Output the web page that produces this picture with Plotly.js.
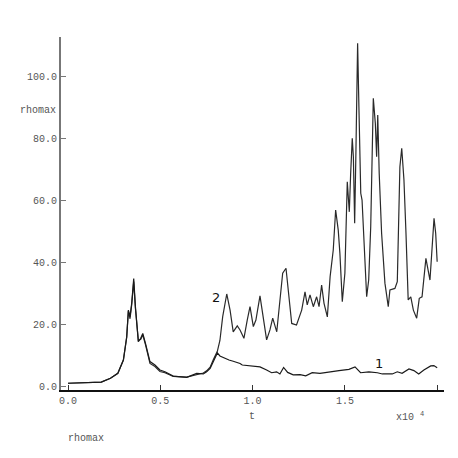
<!DOCTYPE html>
<html>
<head>
<meta charset="utf-8">
<script src="https://cdn.plot.ly/plotly-3.0.1.min.js"></script>
<style>
  body { margin: 0; background: #fff; }
  #graph { width: 458px; height: 458px; }
</style>
</head>
<body>
<div id="graph"></div>
<script>
//----------------------- datos (t en unidades de 1e4) ------------------
const tComun = [0, 0.1, 0.18, 0.23, 0.27, 0.30, 0.318, 0.327, 0.336, 0.345, 0.356, 0.365, 0.381, 0.394, 0.405, 0.42, 0.444, 0.471, 0.498, 0.525, 0.57, 0.643, 0.697, 0.733, 0.751, 0.77, 0.787, 0.809];
const rhoComun1 = [1.2, 1.3, 1.6, 2.8, 4.4, 8.7, 16.2, 24.8, 22.7, 27, 35, 26, 14.6, 15.7, 17.3, 14, 8.2, 7.1, 5.5, 4.9, 3.5, 3.1, 4.4, 4.2, 4.9, 6, 8.2, 11];
const rhoComun2 = [1.2, 1.3, 1.6, 2.8, 4.4, 8.7, 16.0, 24.5, 22.0, 26.5, 34, 25.5, 15.0, 15.4, 16.8, 13.6, 7.6, 6.6, 5.0, 4.6, 3.4, 3.2, 4.0, 4.5, 5.2, 6.4, 8.8, 11.5];

const t1 = [0.823, 0.85, 0.872, 0.895, 0.932, 0.944, 0.986, 1.04, 1.076, 1.09, 1.103, 1.13, 1.148, 1.168, 1.19, 1.22, 1.257, 1.288, 1.31, 1.323, 1.365, 1.396, 1.43, 1.468, 1.522, 1.555, 1.585, 1.63, 1.676, 1.703, 1.757, 1.784, 1.81, 1.847, 1.874, 1.9, 1.928, 1.965, 1.982, 2.0];
const rho1 = [10, 9.2, 8.7, 8.3, 7.6, 7.1, 6.8, 6.5, 5.5, 4.9, 4.6, 4.9, 4.2, 6.3, 4.7, 3.9, 4.0, 3.6, 4.4, 4.6, 4.4, 4.6, 4.9, 5.3, 5.7, 6.5, 4.6, 4.9, 4.6, 4.2, 4.2, 4.9, 4.4, 5.8, 5.3, 4.2, 5.5, 6.8, 6.9, 6.2];

const t2 = [0.823, 0.838, 0.86, 0.878, 0.895, 0.917, 0.932, 0.953, 0.971, 0.986, 1.004, 1.018, 1.04, 1.058, 1.076, 1.094, 1.109, 1.131, 1.148, 1.163, 1.181, 1.193, 1.212, 1.238, 1.266, 1.284, 1.296, 1.311, 1.329, 1.347, 1.36, 1.374, 1.387, 1.405, 1.42, 1.437, 1.45, 1.464, 1.473, 1.486, 1.5, 1.513, 1.524, 1.531, 1.54, 1.546, 1.553, 1.56, 1.569, 1.576, 1.586, 1.593, 1.609, 1.618, 1.629, 1.64, 1.654, 1.665, 1.672, 1.678, 1.686, 1.699, 1.717, 1.735, 1.744, 1.771, 1.784, 1.798, 1.808, 1.82, 1.831, 1.843, 1.857, 1.871, 1.889, 1.903, 1.918, 1.939, 1.961, 1.983, 1.992, 2.0];
const rho2 = [15, 22.7, 30, 24.8, 17.8, 19.7, 18.4, 15.7, 21.6, 25.9, 19.5, 21.6, 29.4, 22.7, 15.2, 18.4, 22.2, 17.8, 27, 36.7, 38.3, 31.8, 20.5, 20, 24.8, 30.7, 26.5, 29.7, 25.9, 29.1, 25.9, 32.9, 27, 22.6, 35.6, 44.2, 57.1, 50.6, 43.1, 27.5, 36.7, 66.2, 56.5, 68.4, 80.2, 74.3, 52.8, 76.5, 110.9, 90.4, 62.5, 60.3, 42, 29.1, 34.5, 51.7, 93.1, 85, 74.3, 87.7, 68.9, 49.6, 33.5, 25.9, 31.3, 31.8, 34, 71, 77, 66.8, 49.6, 28.1, 29.1, 24.8, 22.2, 28.6, 29.1, 41.5, 34.5, 54.4, 49.6, 40.4];

const xTicks = [0, 0.5, 1.0, 1.5, 2.0];
const xTickText = ['0.0', '0.5', '1.0', '1.5', ''];
const yTicks = [0, 20, 40, 60, 80, 100];

//----------------------- dibujo ------------------
// cada texto recibe su propio objeto de fuente
function fuenteMono(){
    return {family: '"Courier New", "Liberation Mono", "DejaVu Sans Mono", monospace', size: 10, color: '#555555'};
}
function fuenteSans(){
    return {family: 'DejaVu Sans', size: 13, color: '#111111'};
}

function rotulo(x, y, texto){
    return {xref: 'paper', yref: 'paper', x: x, y: y, xanchor: 'center', yanchor: 'middle',
            text: texto, showarrow: false, font: fuenteMono()};
}

let curva1 = {
    x: tComun.concat(t1),
    y: rhoComun1.concat(rho1),
    mode: 'lines',
    line: {color: '#1a1a1a', width: 1.2},
    hoverinfo: 'skip'
};

let curva2 = {
    x: tComun.concat(t2),
    y: rhoComun2.concat(rho2),
    mode: 'lines',
    line: {color: '#2a2a2a', width: 1.2},
    hoverinfo: 'skip'
};

let data = [curva2, curva1];

let layout = {
    width: 458,
    height: 458,
    margin: {l: 61, r: 14, t: 37, b: 68},
    paper_bgcolor: '#fff',
    plot_bgcolor: '#fff',
    showlegend: false,
    font: fuenteMono(),
    xaxis: {
        range: [-0.038, 2.037],
        tickvals: xTicks,
        ticktext: xTickText,
        ticks: 'inside',
        ticklen: 5,
        tickcolor: '#333',
        showline: true,
        linecolor: '#111',
        linewidth: 2,
        showgrid: false,
        zeroline: false,
        tickfont: fuenteMono()
    },
    yaxis: {
        range: [-0.97, 112.9],
        tickvals: yTicks,
        tickformat: '.1f',
        ticks: 'inside',
        ticklen: 5,
        tickcolor: '#777',
        showline: true,
        linecolor: '#777',
        linewidth: 2,
        showgrid: false,
        zeroline: false,
        tickfont: fuenteMono()
    },
    annotations: [
        rotulo(-0.06, 0.793, 'rhomax'),
        rotulo(0.499, -0.074, 't'),
        rotulo(0.912, -0.074, 'x10 <sup>4</sup>'),
        rotulo(0.065, -0.136, 'rhomax'),
        {x: 0.80, y: 29, text: '2', showarrow: false, font: fuenteSans()},
        {x: 1.685, y: 7.6, text: '1', showarrow: false, font: fuenteSans()}
    ]
};

Plotly.newPlot('graph', data, layout, {displayModeBar: false, staticPlot: true});
</script>
</body>
</html>
